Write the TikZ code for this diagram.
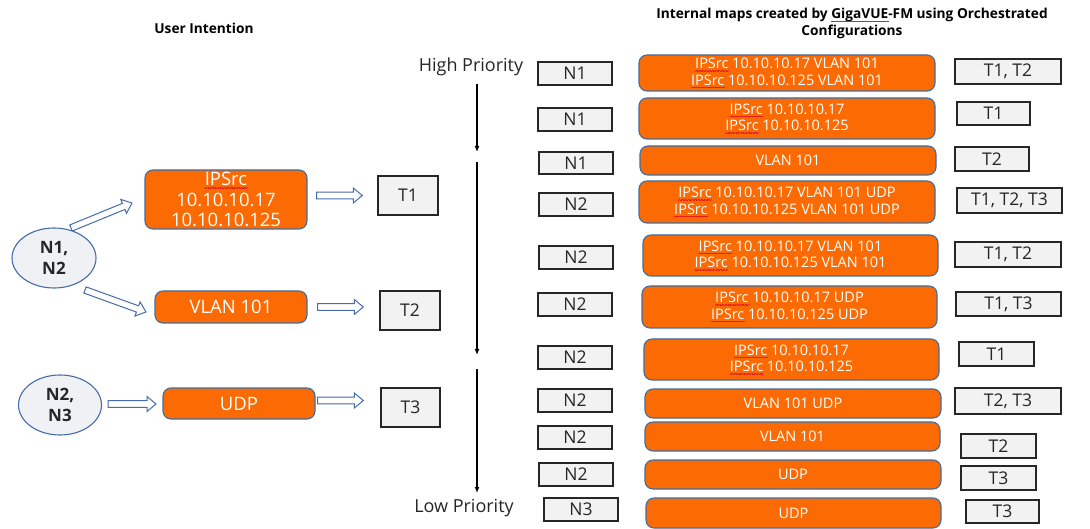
\documentclass[tikz,border=0pt]{standalone}
\usepackage{fontspec}
\setmainfont{Open Sans}
\usetikzlibrary{calc,arrows.meta,shapes.geometric}
\definecolor{boxorange}{RGB}{252,106,3}
\definecolor{boxborder}{RGB}{65,110,160}
\definecolor{arrowblue}{RGB}{70,108,170}
\definecolor{ellfill}{RGB}{240,241,245}
\definecolor{ellborder}{RGB}{70,108,170}
\definecolor{grayfill}{RGB}{242,242,242}
\definecolor{grayborder}{RGB}{38,38,38}
\definecolor{spellred}{RGB}{230,30,30}
\newsavebox\spellbox
\newcommand\spellmark[1]{\leavevmode\sbox\spellbox{#1}\rlap{\usebox\spellbox}{\color{spellred}\xleaders\hbox{\rule[-2.8pt]{0.7pt}{0.5pt}\rule[-2.3pt]{0.7pt}{0.5pt}}\hskip\wd\spellbox}}
\begin{document}
\begin{tikzpicture}[x=1pt,y=-1pt,
  sz/.style 2 args={minimum width=#1pt,minimum height=#2pt},
  mapbox/.style={draw=boxborder,line width=1.1pt,fill=boxorange,rounded corners=8pt,text=white,align=center,inner sep=0pt,font=\fontsize{14.5}{16.5}\selectfont},
  leftbox/.style={draw=boxborder,line width=1.1pt,fill=boxorange,rounded corners=8pt,text=white,align=center,inner sep=0pt,font=\fontsize{18.5}{20.5}\selectfont},
  graybox/.style={draw=grayborder,line width=1.4pt,fill=grayfill,inner sep=0pt,text=black!85,font=\fontsize{17.5}{20}\selectfont},
  ellnode/.style={ellipse,draw=ellborder,line width=1.1pt,fill=ellfill,inner sep=0pt,align=center,text=black!85,font=\bfseries\fontsize{17}{21}\selectfont},
  titletext/.style={inner sep=0pt,align=center,font=\bfseries\fontsize{13.7}{16.5}\selectfont},
  priotext/.style={inner sep=0pt,text=black!85,font=\fontsize{18}{20}\selectfont},
  prioarrow/.style={line width=1.3pt,-{Latex[length=6pt,width=5pt]}},
  hollow/.style={draw=arrowblue,fill=white,line width=1pt,line join=miter,to path={
    ($(\tikztostart)!3.3pt!90:(\tikztotarget)$) --
    ($($(\tikztotarget)!9pt!(\tikztostart)$)!3.3pt!90:(\tikztotarget)$) --
    ($($(\tikztotarget)!9pt!(\tikztostart)$)!7.5pt!90:(\tikztotarget)$) --
    (\tikztotarget) --
    ($($(\tikztotarget)!9pt!(\tikztostart)$)!7.5pt!-90:(\tikztotarget)$) --
    ($($(\tikztotarget)!9pt!(\tikztostart)$)!3.3pt!-90:(\tikztotarget)$) --
    ($(\tikztostart)!3.3pt!-90:(\tikztotarget)$) -- cycle}}
]
\useasboundingbox[fill=white] (0,0) rectangle (1090,529);

% ---------- titles ----------
\node[titletext] (ui) at (204,28) {User Intention};
\node[titletext] (im) at (852,23.5) {Internal maps created by \spellmark{GigaVUE}-FM using Orchestrated\\Configurations};

% ---------- left: user intention ----------
\node[ellnode,sz={84}{60}] (ell1) at (54,258) {N1,\\N2};
\node[ellnode,sz={83}{60}] (ell2) at (60,405) {N2,\\N3};
\node[leftbox,sz={162}{59}] (ip) at (226,199.5) {\spellmark{IPSrc}\\10.10.10.17\\10.10.10.125};
\node[leftbox,sz={152}{32}] (vlan) at (231,307) {VLAN 101};
\node[leftbox,sz={152}{31}] (udp) at (239,403.5) {UDP};
\node[graybox,sz={60}{39}] (t1) at (408,195.5) {T1};
\node[graybox,sz={60}{39}] (t2) at (410,310.5) {T2};
\node[graybox,sz={59}{39}] (t3) at (410.5,407.5) {T3};

\coordinate (a1s) at (71,228);  \coordinate (a1e) at (132,203);
\coordinate (a2s) at (85,290);  \coordinate (a2e) at (146,312);
\coordinate (a3s) at (108,404); \coordinate (a3e) at (156,404);
\coordinate (a4s) at ([xshift=9pt]ip.east|-t1.center);   \coordinate (a4e) at ([xshift=-15pt]t1.west);
\coordinate (a5s) at ([xshift=10pt]vlan.east);  \coordinate (a5e) at ([xshift=-16pt]t2.west|-vlan.center);
\coordinate (a6s) at ([xshift=2pt,yshift=3pt]udp.east);   \coordinate (a6e) at ([xshift=-17pt]t3.west|-a6s);
\draw[hollow] (a1s) to (a1e);
\draw[hollow] (a2s) to (a2e);
\draw[hollow] (a3s) to (a3e);
\draw[hollow] (a4s) to (a4e);
\draw[hollow] (a5s) to (a5e);
\draw[hollow] (a6s) to (a6e);

% ---------- priority axis ----------
\node[priotext] (hp) at (471,67) {High Priority};
\node[priotext] (lp) at (464,508) {Low Priority};
\coordinate (v1a) at (477,84);  \coordinate (v1b) at (477,152);
\coordinate (v2a) at (477,162); \coordinate (v2b) at (477,355);
\coordinate (v3a) at (477,369); \coordinate (v3b) at (477,493);
\draw[prioarrow] (v1a) -- (v1b);
\draw[prioarrow] (v2a) -- (v2b);
\draw[prioarrow] (v3a) -- (v3b);

% ---------- right: internal maps ----------
\node[graybox,sz={74}{23}] (n1) at (575,73.5) {N1};
\node[mapbox,sz={296}{36}] (m1) at (787,73) {\spellmark{IPSrc} 10.10.10.17 VLAN 101\\\spellmark{IPSrc} 10.10.10.125 VLAN 101};
\node[graybox,sz={106}{25}] (r1) at (1008,71.5) {T1, T2};

\node[graybox,sz={74}{23}] (n2) at (575,119.5) {N1};
\node[mapbox,sz={296}{41}] (m2) at (787,118.5) {\spellmark{IPSrc} 10.10.10.17\\\spellmark{IPSrc} 10.10.10.125};
\node[graybox,sz={73}{23}] (r2) at (993.5,113.5) {T1};

\node[graybox,sz={74}{22}] (n3) at (576,163) {N1};
\node[mapbox,sz={296}{29}] (m3) at (788,160.5) {VLAN 101};
\node[graybox,sz={74}{24}] (r3) at (992,159) {T2};

\node[graybox,sz={74}{23}] (n4) at (576,204.5) {N2};
\node[mapbox,sz={296}{42}] (m4) at (787,202) {\spellmark{IPSrc} 10.10.10.17 VLAN 101 UDP\\\spellmark{IPSrc} 10.10.10.125 VLAN 101 UDP};
\node[graybox,sz={105}{25}] (r4) at (1009.5,200.5) {T1, T2, T3};

\node[graybox,sz={74}{23}] (n5) at (576,257.5) {N2};
\node[mapbox,sz={295}{41}] (m5) at (790.5,255.5) {\spellmark{IPSrc} 10.10.10.17 VLAN 101\\\spellmark{IPSrc} 10.10.10.125 VLAN 101};
\node[graybox,sz={106}{25}] (r5) at (1008,254.5) {T1, T2};

\node[graybox,sz={74}{23}] (n6) at (575,304.5) {N2};
\node[mapbox,sz={295}{42}] (m6) at (789.5,307) {\spellmark{IPSrc} 10.10.10.17 UDP\\\spellmark{IPSrc} 10.10.10.125 UDP};
\node[graybox,sz={105}{24}] (r6) at (1008.5,304) {T1, T3};

\node[graybox,sz={74}{23}] (n7) at (575,357.5) {N2};
\node[mapbox,sz={295}{41}] (m7) at (791.5,359.5) {\spellmark{IPSrc} 10.10.10.17\\\spellmark{IPSrc} 10.10.10.125};
\node[graybox,sz={75}{24}] (r7) at (996.5,354) {T1};

\node[graybox,sz={74}{23}] (n8) at (575,400.5) {N2};
\node[mapbox,sz={296}{29}] (m8) at (793,403.5) {VLAN 101 UDP};
\node[graybox,sz={106}{26}] (r8) at (1008,401) {T2, T3};

\node[graybox,sz={74}{23}] (n9) at (575,437.5) {N2};
\node[mapbox,sz={295}{29}] (m9) at (792.5,436.5) {VLAN 101};
\node[graybox,sz={75}{24}] (r9) at (998.5,446) {T2};

\node[graybox,sz={74}{23}] (n10) at (576,474.5) {N2};
\node[mapbox,sz={296}{29}] (m10) at (793,474.5) {UDP};
\node[graybox,sz={75}{24}] (r10) at (998.5,478) {T3};

\node[graybox,sz={74}{23}] (n11) at (581,509.5) {N3};
\node[mapbox,sz={295}{30}] (m11) at (793.5,513) {UDP};
\node[graybox,sz={73}{23}] (r11) at (1002.5,511.5) {T3};
\end{tikzpicture}
\end{document}
